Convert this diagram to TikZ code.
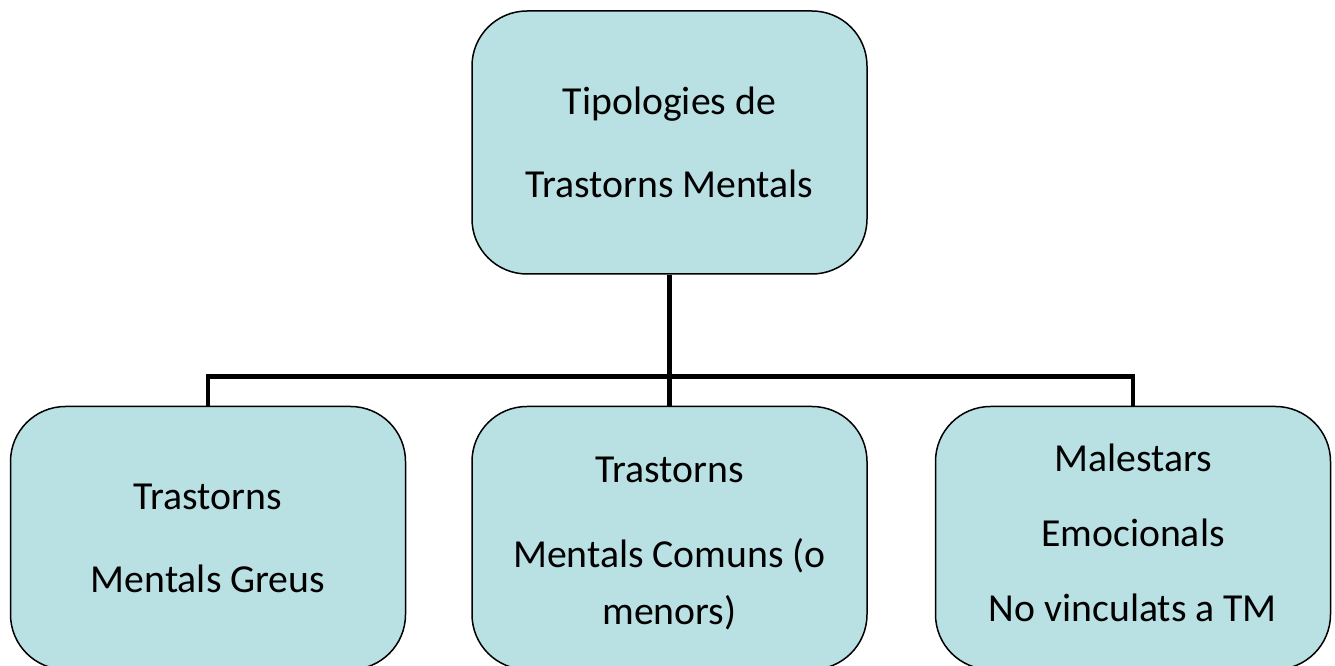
\documentclass[tikz,border=0pt]{standalone}
\usepackage{fontspec}
\setmainfont{Carlito}
\usepackage{xcolor}
\usetikzlibrary{positioning,calc}

\definecolor{boxfill}{HTML}{B9E0E3}

\begin{document}
\begin{tikzpicture}[node distance=1.3cm,
  tmbox/.style={draw=black, line width=0.85pt, fill=boxfill, rectangle,
    rounded corners=1.1cm, minimum width=7.9cm, minimum height=5.26cm,
    inner sep=0pt, align=center, font=\fontsize{22.6}{47.2}\selectfont},
  branch/.style={line width=2.8pt}]
\useasboundingbox (0,0) rectangle (26.7,-13.32);

\node[tmbox] (root) at (13.39,-2.85) {Tipologies de\\Trastorns Mentals};

\node[tmbox, below=2.62cm of root, font=\fontsize{22.6}{32.4}\selectfont] (comuns) {\rule{0pt}{20.5pt}Trastorns\\[16pt]Mentals Comuns (o\\menors)};
\node[tmbox, left=of comuns] (greus) {Trastorns\\Mentals Greus};
\node[tmbox, right=1.34cm of comuns, font=\fontsize{22.6}{42.7}\selectfont] (malestar) {Malestars\\Emocionals\\No vinculats a TM\rule[-5.7pt]{0pt}{5.7pt}};

\coordinate (bus) at ($(root.south)+(0,-2.04)$);

\draw[branch] (root.south) -- (bus);
\draw[branch] (bus) -- (comuns.north);
\draw[branch] (greus.north) |- (bus) -| (malestar.north);

\end{tikzpicture}
\end{document}
